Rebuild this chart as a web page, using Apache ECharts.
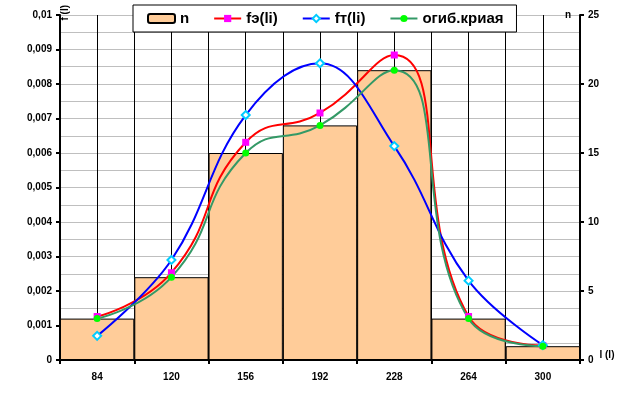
<!DOCTYPE html>
<html>
<head>
<meta charset="utf-8">
<script src="https://cdn.jsdelivr.net/npm/echarts@6/dist/echarts.min.js"></script>
<style>
  html, body { margin: 0; padding: 0; background: #fff; }
  #chart { width: 622px; height: 398px; }
</style>
</head>
<body>
<div id="chart"></div>
<script>
// interval centres (l)
const categories = ['84', '120', '156', '192', '228', '264', '300']
// counts n (right axis)
const nValues = [3, 6, 15, 17, 21, 3, 1]
// empirical density fэ(li)
const fEmp = [0.00126, 0.00253, 0.00631, 0.00716, 0.00884, 0.00126, 0.00042]
// theoretical density fт(li)
const fTheor = [0.0007, 0.0029, 0.0071, 0.0086, 0.0062, 0.0023, 0.00043]
// envelope curve
const envelope = [0.0012, 0.0024, 0.006, 0.0068, 0.0084, 0.0012, 0.0004]
// helper axis: two cells per interval, gives vertical lines at edges and centres
const halfCells = ['84a', '84b', '120a', '120b', '156a', '156b', '192a', '192b',
  '228a', '228b', '264a', '264b', '300a', '300b']

const FONT = "'Liberation Sans', Arial, sans-serif"

const chart = echarts.init(document.getElementById('chart'))

const fmtLeft = v => {
  if (v === 0) return '0'
  return String(+v.toFixed(3)).replace('.', ',')
}

chart.setOption({
  animation: false,
  backgroundColor: '#fff',
  grid: { left: 60, right: 42, top: 15, bottom: 38 },
  legend: {
    left: 133,
    top: 5,
    padding: [6, 13, 6, 14],
    itemGap: 24,
    itemWidth: 27,
    itemHeight: 9,
    backgroundColor: '#fff',
    borderColor: '#000',
    borderWidth: 1,
    textStyle: { fontFamily: FONT, fontWeight: 'bold', fontSize: 15, color: '#000' },
    data: ['n', 'fэ(li)', 'fт(li)', 'огиб.криая']
  },
  xAxis: [
    {
      type: 'category',
      data: categories,
      boundaryGap: true,
      name: 'l (l)',
      nameLocation: 'end',
      nameGap: 18,
      nameTextStyle: { fontFamily: FONT, fontWeight: 'bold', fontSize: 10, color: '#000', verticalAlign: 'bottom' },
      axisLine: { lineStyle: { color: '#000', width: 2 } },
      axisTick: { show: true, interval: 0, length: 4, lineStyle: { color: '#000', width: 2 } },
      axisLabel: { interval: 0, margin: 12, fontFamily: FONT, fontWeight: 'bold', fontSize: 10, color: '#000' },
      splitLine: { show: false }
    },
    {
      type: 'category',
      data: halfCells,
      boundaryGap: true,
      position: 'bottom',
      axisLine: { show: false },
      axisTick: { show: false },
      axisLabel: { show: false },
      splitLine: { show: true, interval: 0, lineStyle: { color: '#000', width: 1 } }
    }
  ],
  yAxis: [
    {
      type: 'value',
      min: 0,
      max: 0.01,
      interval: 0.001,
      axisLine: { show: true, lineStyle: { color: '#000', width: 2 } },
      axisTick: { show: true, length: 4, lineStyle: { color: '#000', width: 2 } },
      axisLabel: { margin: 8, formatter: fmtLeft, fontFamily: FONT, fontWeight: 'bold', fontSize: 10, color: '#000' },
      splitLine: { show: true, lineStyle: { color: '#BFBFBF', width: 1 } },
      minorTick: { show: false, splitNumber: 2 },
      minorSplitLine: { show: true, lineStyle: { color: '#BFBFBF', width: 1 } }
    },
    {
      type: 'value',
      min: 0,
      max: 25,
      interval: 5,
      position: 'right',
      name: 'n',
      nameLocation: 'end',
      nameGap: 0,
      nameTextStyle: { fontFamily: FONT, fontWeight: 'bold', fontSize: 10, color: '#000',
        align: 'right', verticalAlign: 'middle', padding: [0, 9, 0, 0] },
      axisLine: { show: true, lineStyle: { color: '#000', width: 2 } },
      axisTick: { show: true, length: 4, lineStyle: { color: '#000', width: 2 } },
      axisLabel: { margin: 8, fontFamily: FONT, fontWeight: 'bold', fontSize: 10, color: '#000' },
      splitLine: { show: false }
    }
  ],
  graphic: [
    {
      type: 'text',
      left: 60,
      top: 5,
      rotation: Math.PI / 2,
      z: 100,
      style: { text: 'f (l)', font: "bold 10px 'Liberation Sans', Arial, sans-serif", fill: '#000' }
    }
  ],
  series: [
    {
      name: 'n',
      type: 'bar',
      xAxisIndex: 0,
      yAxisIndex: 1,
      barCategoryGap: '0%',
      itemStyle: { color: '#FFCC99', borderColor: '#000', borderWidth: 1 },
      data: nValues,
      z: 1
    },
    {
      name: 'fэ(li)',
      type: 'line',
      xAxisIndex: 0,
      yAxisIndex: 0,
      smooth: 0.5,
      symbol: 'rect',
      symbolSize: 7,
      itemStyle: { color: '#FF00FF' },
      lineStyle: { color: '#FF0000', width: 2 },
      data: fEmp,
      z: 3
    },
    {
      name: 'fт(li)',
      type: 'line',
      xAxisIndex: 0,
      yAxisIndex: 0,
      smooth: 0.4,
      symbol: 'emptyDiamond',
      symbolSize: 8,
      itemStyle: { color: '#00CCFF', borderWidth: 1 },
      lineStyle: { color: '#0000FF', width: 2 },
      data: fTheor,
      z: 3
    },
    {
      name: 'огиб.криая',
      type: 'line',
      xAxisIndex: 0,
      yAxisIndex: 0,
      smooth: 0.5,
      symbol: 'circle',
      symbolSize: 7,
      itemStyle: { color: '#00FF00' },
      lineStyle: { color: '#339966', width: 2 },
      data: envelope,
      z: 3
    }
  ]
})
</script>
</body>
</html>
